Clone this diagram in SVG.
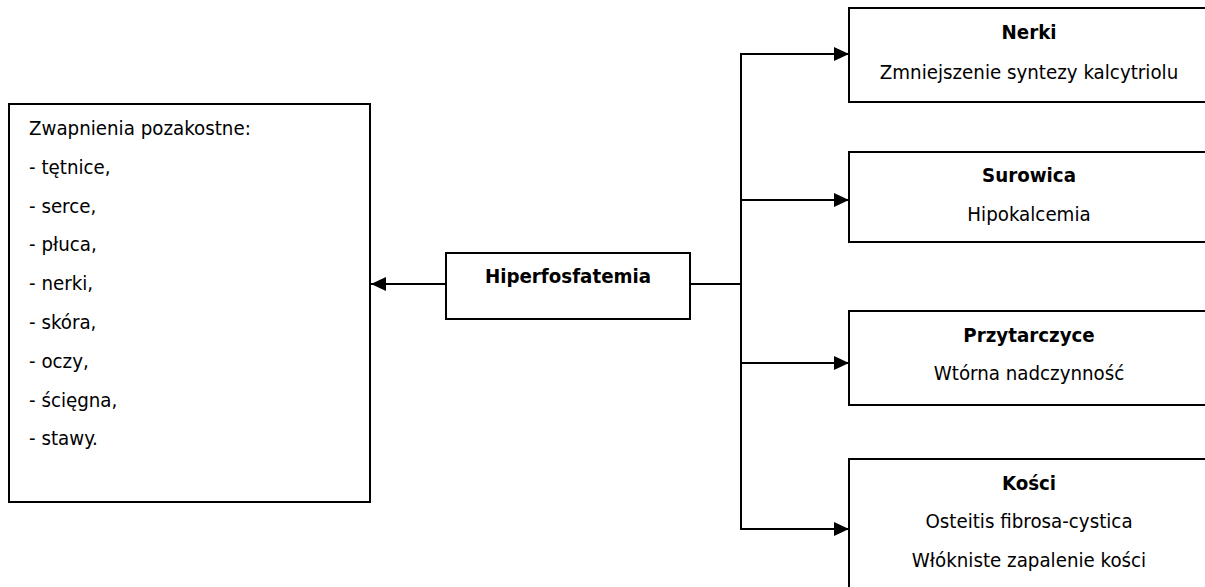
<svg xmlns="http://www.w3.org/2000/svg" width="1205" height="587" viewBox="0 0 1205 587">
<style>
.box{fill:#fff;stroke:#000;stroke-width:2}
.t{font-family:"DejaVu Sans Condensed","DejaVu Sans",sans-serif;font-stretch:condensed;font-size:20.3px;fill:#000}
.b{font-weight:bold}
.c{text-anchor:middle}
.ln{fill:none;stroke:#000;stroke-width:2}
</style>
<defs>
<marker id="ah" markerUnits="userSpaceOnUse" markerWidth="16" markerHeight="15" refX="15" refY="7" orient="auto">
<path d="M0,0 L15,7 L0,14 Z" fill="#000"/>
</marker>
</defs>
<rect width="1205" height="587" fill="#fff"/>
<g id="connectors">
<line class="ln" x1="446" y1="284" x2="371" y2="284" marker-end="url(#ah)"/>
<line class="ln" x1="690" y1="284" x2="741" y2="284"/>
<line class="ln" x1="741" y1="53" x2="741" y2="530"/>
<line class="ln" x1="740" y1="54" x2="849" y2="54" marker-end="url(#ah)"/>
<line class="ln" x1="741" y1="200" x2="849" y2="200" marker-end="url(#ah)"/>
<line class="ln" x1="741" y1="363" x2="849" y2="363" marker-end="url(#ah)"/>
<line class="ln" x1="740" y1="529" x2="849" y2="529" marker-end="url(#ah)"/>
</g>
<g id="zwapnienia">
<rect class="box" x="9" y="104" width="361" height="398"/>
<text class="t" x="29" y="135">Zwapnienia pozakostne:</text>
<text class="t" x="29" y="174">- tętnice,</text>
<text class="t" x="29" y="213">- serce,</text>
<text class="t" x="29" y="251">- płuca,</text>
<text class="t" x="29" y="290">- nerki,</text>
<text class="t" x="29" y="329">- skóra,</text>
<text class="t" x="29" y="368">- oczy,</text>
<text class="t" x="29" y="407">- ścięgna,</text>
<text class="t" x="29" y="445">- stawy.</text>
</g>
<g id="hiperfosfatemia">
<rect class="box" x="446" y="253" width="244" height="66"/>
<text class="t b c" x="568" y="283">Hiperfosfatemia</text>
</g>
<g id="nerki">
<rect class="box" x="849" y="8" width="362" height="94"/>
<text class="t b c" x="1029" y="39">Nerki</text>
<text class="t c" x="1029" y="79">Zmniejszenie syntezy kalcytriolu</text>
</g>
<g id="surowica">
<rect class="box" x="849" y="152" width="362" height="90"/>
<text class="t b c" x="1029" y="182">Surowica</text>
<text class="t c" x="1029" y="221">Hipokalcemia</text>
</g>
<g id="przytarczyce">
<rect class="box" x="849" y="311" width="362" height="94"/>
<text class="t b c" x="1029" y="342">Przytarczyce</text>
<text class="t c" x="1029" y="380">Wtórna nadczynność</text>
</g>
<g id="kosci">
<rect class="box" x="849" y="459" width="362" height="140"/>
<text class="t b c" x="1029" y="490">Kości</text>
<text class="t c" x="1029" y="528">Osteitis fibrosa-cystica</text>
<text class="t c" x="1029" y="567">Włókniste zapalenie kości</text>
</g>
</svg>
